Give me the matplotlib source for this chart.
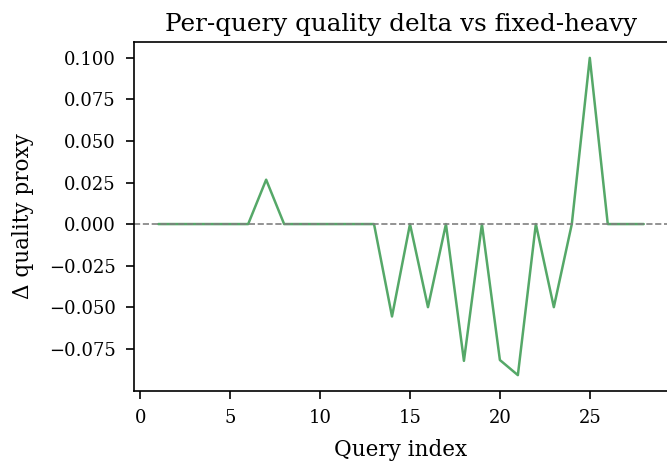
import numpy as np
import matplotlib
matplotlib.use("Agg")
import matplotlib.pyplot as plt
import seaborn as sns

# per-query delta vs fixed-heavy
query_idx = list(range(1, 29))
delta = [0, 0, 0, 0, 0, 0, 0.0267, 0, 0, 0, 0, 0, 0,
         -0.0556, 0, -0.05, 0, -0.0823, 0, -0.0818, -0.0909, 0,
         -0.05, 0, 0.1, 0, 0, 0]
yticks = [-0.075, -0.05, -0.025, 0.0, 0.025, 0.05, 0.075, 0.1]

sns.set_theme(style="ticks", palette="deep")
plt.rcParams['font.family'] = ['DejaVu Serif']
plt.rcParams['text.color'] = 'black'
plt.rcParams['axes.labelcolor'] = 'black'
plt.rcParams['xtick.color'] = 'black'
plt.rcParams['ytick.color'] = 'black'
plt.rcParams['axes.edgecolor'] = 'black'

W, H = 667, 466
fig = plt.figure(figsize=(W / 100, H / 100), dpi=100)
ax = fig.add_axes([134 / W, (H - 391) / H, (668 - 134) / W, (391 - 42) / H])

ax.plot(query_idx, delta, color=sns.color_palette("deep")[2], linewidth=1.8)
ax.axhline(0, color='gray', linestyle='--', linewidth=1.2)

ax.set_xticks([0, 5, 10, 15, 20, 25])
ax.set_yticks(yticks)
ax.set_yticklabels([f"{v:.3f}".replace("-", "\u2212") for v in yticks])
ax.tick_params(labelsize=13, length=6, width=1.2, pad=7)
for s in ax.spines.values():
    s.set_linewidth(1.2)
# the figure crops the right edge of the frame
ax.spines['right'].set_visible(False)

ax.set_xlabel("Query index", fontsize=15.5, labelpad=8.5)
ax.set_ylabel("\u0394 quality proxy", fontsize=15.5, labelpad=11)
ax.set_title("Per-query quality delta vs fixed-heavy", fontsize=17.7, pad=8)

fig.savefig("out.png", dpi=100)
